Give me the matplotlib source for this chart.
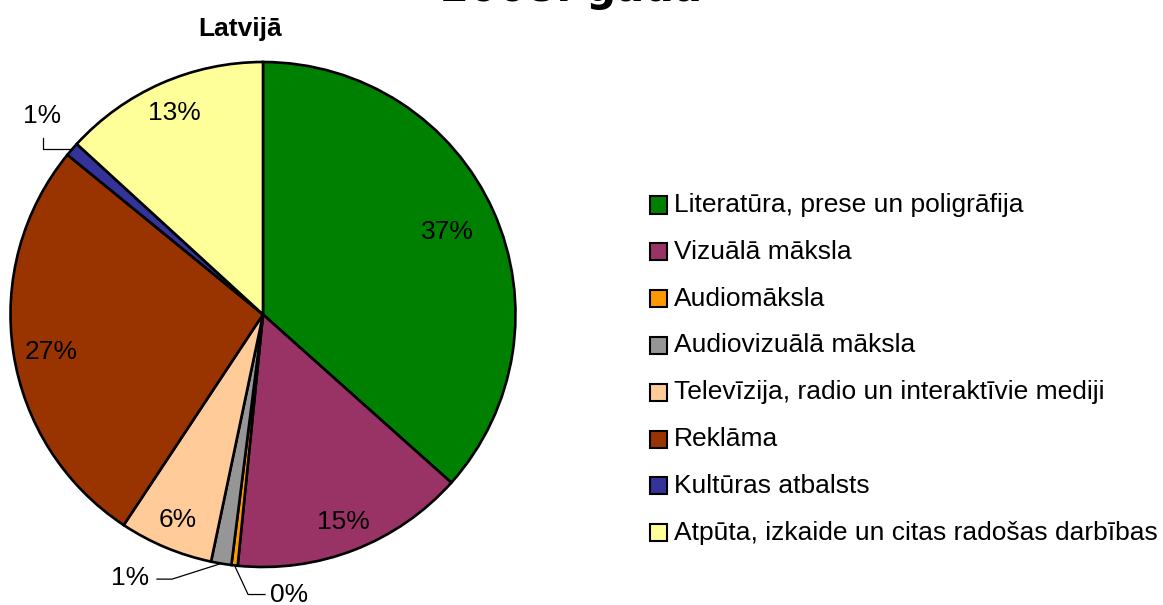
import numpy as np
import matplotlib.pyplot as plt
from matplotlib.patches import Rectangle

plt.rcParams['font.family'] = ['Liberation Sans', 'DejaVu Sans']

categories = ['Literatūra, prese un poligrāfija', 'Vizuālā māksla', 'Audiomāksla',
              'Audiovizuālā māksla', 'Televīzija, radio un interaktīvie mediji',
              'Reklāma', 'Kultūras atbalsts', 'Atpūta, izkaide un citas radošas darbības']
shares = [36.6, 15.0, 0.4, 1.3, 6.0, 26.6, 0.9, 13.2]
colors = ['#008000', '#993366', '#FF9900', '#969696', '#FFCC99', '#993300', '#333399', '#FFFF99']

W, H = 1163, 605
fig = plt.figure(figsize=(W / 100, H / 100), dpi=100)

# pie centre (263, 314.5) px, radius 252.5 px
cx, cy, r = 263, 314.5, 252.5
lim = 1.2
side = 2 * lim * r
ax = fig.add_axes([(cx - side / 2) / W, (H - cy - side / 2) / H, side / W, side / H])

wedges, _ = ax.pie(shares, colors=colors, startangle=90, counterclock=False,
                   wedgeprops=dict(edgecolor='black', linewidth=1.9))
ax.set_xlim(-lim, lim)
ax.set_ylim(-lim, lim)
ax.set_aspect('auto')

total = sum(shares)
cum = np.cumsum(shares) - np.array(shares) / 2
mid = np.radians(90 - 360 * cum / total)
labels = ['%d%%' % round(v) for v in shares]

# labels inside the slices
inside = {0: 0.80, 1: 0.88, 4: 0.88, 5: 0.85, 7: 0.87}
for i, d in inside.items():
    ax.text(d * np.cos(mid[i]), d * np.sin(mid[i]) - (0.02 if i == 5 else 0), labels[i],
            ha='center', va='center', fontsize=19)

lw = 0.9
# Kultūras atbalsts
i = 6
p0 = (np.cos(mid[i]), np.sin(mid[i]))
ax.plot([p0[0], -0.871, -0.871], [p0[1], p0[1], 0.70], color='black', lw=lw, clip_on=False)
ax.text(-0.875, 0.786, labels[i], ha='center', va='center', fontsize=19)
# Audiovizuālā māksla
i = 3
p0 = (np.cos(mid[i]), np.sin(mid[i]))
ax.plot([p0[0], -0.36, -0.42], [p0[1], -1.048, -1.048], color='black', lw=lw, clip_on=False)
ax.text(-0.527, -1.044, labels[i], ha='center', va='center', fontsize=19)
# Audiomāksla
i = 2
p0 = (np.cos(mid[i]), np.sin(mid[i]))
ax.plot([p0[0], -0.059, 0.008], [p0[1], -1.109, -1.109], color='black', lw=lw, clip_on=False)
ax.text(0.102, -1.111, labels[i], ha='center', va='center', fontsize=19)

fig.text(571 / W, 1 - 0.5 / H, '2008. gadā', ha='center', va='baseline',
         fontsize=30, fontweight='bold', family='DejaVu Sans')
fig.text(240 / W, 1 - 29 / H, 'Latvijā', ha='center', va='center',
         fontsize=19, fontweight='bold')

# legend
for k, (name, col) in enumerate(zip(categories, colors)):
    yc = 205 + k * 46.8
    fig.add_artist(Rectangle((650 / W, 1 - (yc + 8.5) / H), 17 / W, 17 / H,
                             transform=fig.transFigure, facecolor=col,
                             edgecolor='black', linewidth=1.5))
    fig.text(674 / W, 1 - yc / H, name, ha='left', va='center', fontsize=19)

fig.savefig('out.png', dpi=100, facecolor='white')
